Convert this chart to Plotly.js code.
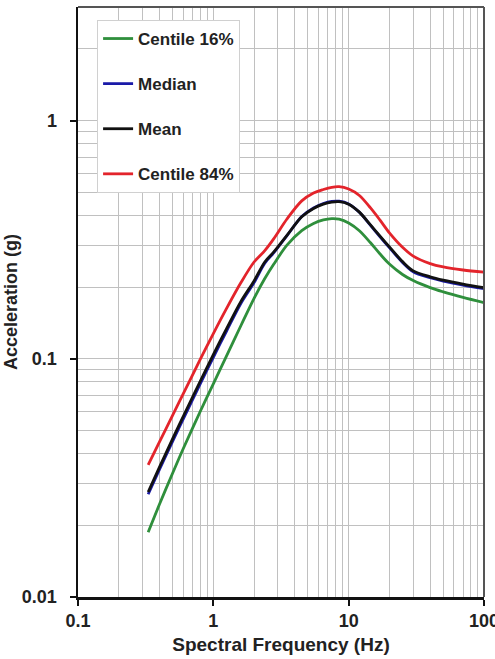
<!DOCTYPE html>
<html>
<head>
<meta charset="utf-8">
<script src="https://cdn.plot.ly/plotly-3.0.1.min.js"></script>
<style>html,body{margin:0;padding:0;background:#fff;}#chart{width:495px;height:659px;}</style>
</head>
<body>
<div id="chart"></div>
<script>
// Spectral frequency (Hz)
const freq = [0.33, 0.4, 0.5, 0.6, 0.8, 1.0, 1.25, 1.6, 2.0, 2.4, 2.8, 3.5, 4.5, 5.5, 6.5, 7.5, 8.5, 10, 12, 14.5, 17, 20, 25, 30, 40, 50, 70, 100];
// Acceleration (g)
const centile16 = [0.0187, 0.0245, 0.0331, 0.042, 0.0601, 0.0785, 0.1026, 0.138, 0.1795, 0.2173, 0.25, 0.30, 0.345, 0.37, 0.383, 0.388, 0.386, 0.372, 0.345, 0.307, 0.276, 0.25, 0.226, 0.213, 0.199, 0.191, 0.181, 0.172];
const median    = [0.027, 0.0343, 0.045, 0.056, 0.0785, 0.1015, 0.1305, 0.171, 0.209, 0.252, 0.279, 0.329, 0.396, 0.43, 0.449, 0.458, 0.459, 0.447, 0.412, 0.363, 0.326, 0.293, 0.254, 0.232, 0.219, 0.212, 0.204, 0.197];
const mean      = [0.0276, 0.0351, 0.0461, 0.0574, 0.0805, 0.1041, 0.1336, 0.1743, 0.2125, 0.255, 0.281, 0.33, 0.395, 0.428, 0.446, 0.455, 0.457, 0.446, 0.413, 0.365, 0.328, 0.295, 0.256, 0.234, 0.221, 0.214, 0.206, 0.199];
const centile84 = [0.0359, 0.0448, 0.0579, 0.0714, 0.0994, 0.1276, 0.1624, 0.209, 0.255, 0.2848, 0.3197, 0.3864, 0.4605, 0.497, 0.514, 0.525, 0.528, 0.516, 0.485, 0.43, 0.383, 0.338, 0.294, 0.27, 0.251, 0.243, 0.236, 0.231];

const seriesNames = ["Centile 16%", "Median", "Mean", "Centile 84%"];
const seriesColors = ["#2f8f3c", "#1a1aa8", "#111111", "#e3242b"];
const seriesValues = [centile16, median, mean, centile84];

const xTickVals = [0.1, 1, 10, 100];
const xTickText = ["0.1", "1", "10", "100"];
const yTickVals = [0.01, 0.1, 1];
const yTickText = ["0.01", "0.1", "1"];

const FONT = "Liberation Sans, Arial, sans-serif";

const traces = seriesValues.map((vals, i) => ({
  x: freq, y: vals, type: "scatter", mode: "lines",
  name: seriesNames[i], legendgroup: "g" + i,
  line: {color: seriesColors[i], width: 2.8, shape: "spline", smoothing: 0.9}
}));

const grid = "#c0c0c0";
const layout = {
  width: 495, height: 659,
  margin: {l: 78, r: 11, t: 7, b: 62},
  paper_bgcolor: "#fff", plot_bgcolor: "#fff",
  font: {family: FONT, size: 18, color: "#222"},
  showlegend: true,
  legend: {
    x: 0.047, y: 0.978, xanchor: "left", yanchor: "top",
    bgcolor: "#fff", bordercolor: "#d0d0d0", borderwidth: 1,
    font: {family: FONT, size: 17, color: "#222", weight: "bold"},
    tracegroupgap: 20, traceorder: "grouped"
  },
  xaxis: {
    type: "log", range: [-1, 2],
    tickvals: xTickVals, ticktext: xTickText,
    ticks: "outside", ticklen: 6, tickwidth: 2, tickcolor: "#111",
    ticklabeloverflow: "allow",
    tickfont: {family: FONT, size: 18, color: "#222", weight: "bold"},
    showgrid: true, gridcolor: grid, gridwidth: 1,
    minor: {dtick: "D1", showgrid: true, gridcolor: grid, gridwidth: 1, ticks: ""},
    showline: true, linecolor: "#111", linewidth: 2.5, mirror: false,
    zeroline: false,
    title: {text: "Spectral Frequency (Hz)", font: {family: FONT, size: 19, color: "#222", weight: "bold"}, standoff: 8}
  },
  yaxis: {
    type: "log", range: [-2, Math.log10(3)],
    tickvals: yTickVals, ticktext: yTickText,
    ticks: "outside", ticklen: 6, tickwidth: 2, tickcolor: "#111",
    ticklabelstandoff: 9,
    tickfont: {family: FONT, size: 18, color: "#222", weight: "bold"},
    showgrid: true, gridcolor: grid, gridwidth: 1,
    minor: {dtick: "D1", showgrid: true, gridcolor: grid, gridwidth: 1, ticks: ""},
    showline: true, linecolor: "#111", linewidth: 2.5, mirror: false,
    zeroline: false, automargin: true,
    title: {text: "Acceleration (g)", font: {family: FONT, size: 18, color: "#222", weight: "bold"}, standoff: 0}
  },
  shapes: [
    {type: "line", xref: "paper", yref: "paper", x0: 0, x1: 1, y0: 1, y1: 1, line: {color: "#555", width: 2}},
    {type: "line", xref: "paper", yref: "paper", x0: 1, x1: 1, y0: 0, y1: 1, line: {color: "#555", width: 2}}
  ]
};

Plotly.newPlot("chart", traces, layout, {displayModeBar: false, staticPlot: true});
</script>
</body>
</html>
